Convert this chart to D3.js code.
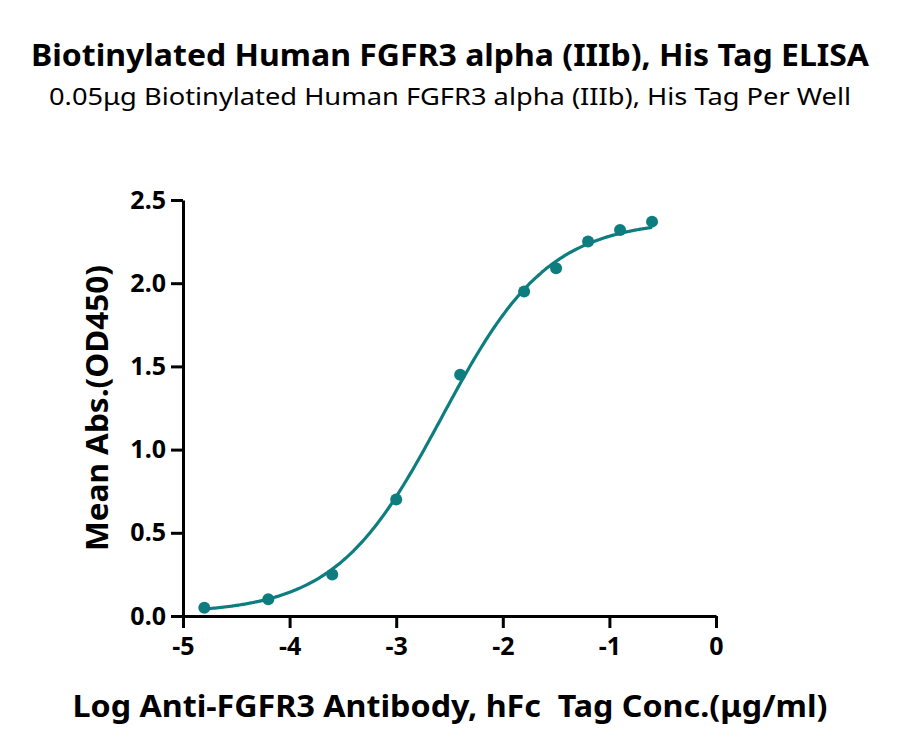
<!DOCTYPE html>
<html>
<head>
<meta charset="utf-8">
<script src="https://cdn.jsdelivr.net/npm/d3@7"></script>
<style>
  body { margin: 0; background: #fff; }
  text { font-family: "Noto Sans", Lato, sans-serif; white-space: pre; }
</style>
</head>
<body>
<script>
// values
var logConc = [-4.8, -4.2, -3.6, -3.0, -2.4, -1.8, -1.5, -1.2, -0.9, -0.6];
var meanAbs = [0.05, 0.10, 0.25, 0.70, 1.45, 1.95, 2.09, 2.25, 2.32, 2.37];

// 4PL fit parameters, estimated from the drawn curve
var fitBottom = 0.015, fitTop = 2.38, fitLogEC50 = -2.57, fitHill = 0.87;

var xTicks = [-5, -4, -3, -2, -1, 0];
var yTicks = [0, 0.5, 1.0, 1.5, 2.0, 2.5];

var titleText = "Biotinylated Human FGFR3 alpha (IIIb), His Tag ELISA";
var subTitleText = "0.05\u03bcg Biotinylated Human FGFR3 alpha (IIIb), His Tag Per Well";
var xLabelText = "Log Anti-FGFR3 Antibody, hFc  Tag Conc.(\u03bcg/ml)";
var yLabelText = "Mean Abs.(OD450)";

var teal = "#0d7d7f";
var fontStack = '"Noto Sans", Lato, sans-serif';

var w = 900, h = 755;

var svg = d3.select('body').append('svg')
    .attr('width', w)
    .attr('height', h);

var xScale = d3.scaleLinear().domain([-5, 0]).range([183, 716]);
var yScale = d3.scaleLinear().domain([0, 2.5]).range([616, 200]);

// titles
svg.append('text')
  .attr('x', 450).attr('y', 66)
  .attr('text-anchor', 'middle')
  .attr('font-size', '31px')
  .attr('font-weight', 'bold')
  .attr('textLength', 838)
  .attr('lengthAdjust', 'spacingAndGlyphs')
  .text(titleText);

svg.append('text')
  .attr('x', 450).attr('y', 105)
  .attr('text-anchor', 'middle')
  .attr('font-size', '24px')
  .attr('textLength', 802)
  .attr('lengthAdjust', 'spacingAndGlyphs')
  .text(subTitleText);

// axes
var xAxis = d3.axisBottom(xScale)
    .tickValues(xTicks)
    .tickSize(12)
    .tickSizeOuter(0)
    .tickPadding(6)
    .tickFormat(function (d) { return String(d); });

var yAxis = d3.axisLeft(yScale)
    .tickValues(yTicks)
    .tickSize(12)
    .tickSizeOuter(0)
    .tickPadding(5)
    .tickFormat(d3.format('.1f'));

var gx = svg.append('g')
  .attr('transform', 'translate(0,' + yScale(0) + ')')
  .call(xAxis);

var gy = svg.append('g')
  .attr('transform', 'translate(' + xScale(-5) + ',0)')
  .call(yAxis);

[gx, gy].forEach(function (g) {
  g.selectAll('path, line')
    .attr('stroke', '#000')
    .attr('stroke-width', 3);
  g.selectAll('text')
    .attr('fill', '#000')
    .attr('font-size', '25px')
    .attr('font-weight', 'bold')
    .attr('font-family', fontStack);
});
gx.selectAll('text').attr('dy', '0.85em');

// axis labels
svg.append('text')
  .attr('x', 450).attr('y', 717)
  .attr('text-anchor', 'middle')
  .attr('font-size', '31px')
  .attr('font-weight', 'bold')
  .attr('textLength', 755)
  .attr('lengthAdjust', 'spacingAndGlyphs')
  .text(xLabelText);

svg.append('text')
  .attr('transform', 'translate(108,' + 408 + ') rotate(-90)')
  .attr('text-anchor', 'middle')
  .attr('font-size', '31px')
  .attr('font-weight', 'bold')
  .attr('textLength', 286)
  .attr('lengthAdjust', 'spacingAndGlyphs')
  .text(yLabelText);

// fitted curve
var fourPL = function (x) {
  return fitBottom + (fitTop - fitBottom) / (1 + Math.pow(10, fitHill * (fitLogEC50 - x)));
};

var curveX = d3.range(d3.min(logConc), d3.max(logConc) + 0.001, 0.02);

var line = d3.line()
  .x(function (d) { return xScale(d); })
  .y(function (d) { return yScale(fourPL(d)); })
  .curve(d3.curveBasis);

svg.append('path')
  .datum(curveX)
  .attr('d', line)
  .attr('fill', 'none')
  .attr('stroke', teal)
  .attr('stroke-width', 3.2);

// points
svg.selectAll('circle')
  .data(logConc)
  .enter()
  .append('circle')
  .attr('cx', function (d) { return xScale(d); })
  .attr('cy', function (d, i) { return yScale(meanAbs[i]); })
  .attr('r', 6)
  .attr('fill', teal);
</script>
</body>
</html>
